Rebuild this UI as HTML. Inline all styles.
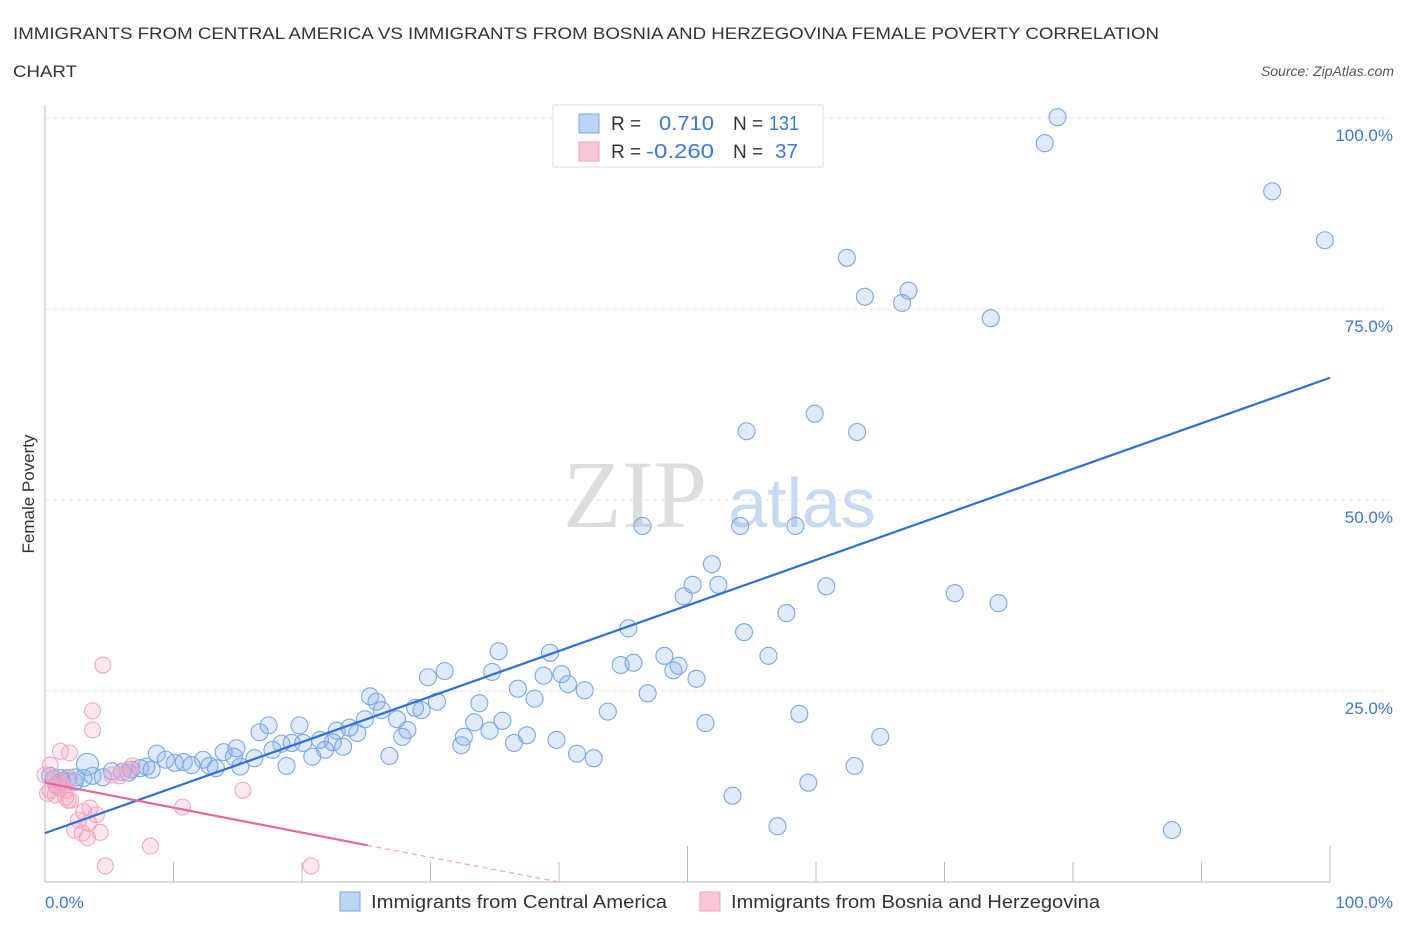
<!DOCTYPE html>
<html><head><meta charset="utf-8"><style>
body{margin:0;background:#fff}
</style></head><body>
<svg width="1406" height="930" viewBox="0 0 1406 930" xmlns="http://www.w3.org/2000/svg" font-family="Liberation Sans, sans-serif">
<text x="13" y="39" font-size="17" fill="#333" textLength="1146" lengthAdjust="spacingAndGlyphs">IMMIGRANTS FROM CENTRAL AMERICA VS IMMIGRANTS FROM BOSNIA AND HERZEGOVINA FEMALE POVERTY CORRELATION</text>
<text x="13" y="77" font-size="17" fill="#333" textLength="64" lengthAdjust="spacingAndGlyphs">CHART</text>
<text x="1394" y="76" font-size="14" fill="#555" font-style="italic" text-anchor="end">Source: ZipAtlas.com</text>
<g id="grid"></g>
<g>
<text x="635" y="527" font-size="96" fill="#ddd" style="font-family:'Liberation Serif',serif" text-anchor="middle">ZIP</text>
<text x="802" y="527" font-size="70" fill="#c8daf2" text-anchor="middle">atlas</text>
</g>
<g id="axes"></g>
<g id="pts"></g>
<g id="lines"></g>
<text x="34" y="494" font-size="17" fill="#333" transform="rotate(-90 34 494)" text-anchor="middle">Female Poverty</text>
<text x="45" y="908" font-size="17" fill="#3b78d8">0.0%</text>
<text x="1393" y="908" font-size="17" fill="#3b78d8" text-anchor="end">100.0%</text>
<g>
<rect x="553" y="105" width="270" height="62" fill="#fff" stroke="#ddd"/>
<rect x="579" y="114" width="20" height="19" fill="#bcd4f6" stroke="#7aa6e6"/>
<rect x="579" y="142" width="20" height="19" fill="#f9c6d6" stroke="#f0a0b8"/>
<text x="611" y="130" font-size="19" fill="#333">R =</text>
<text x="659" y="130" font-size="20" fill="#3b78d8" textLength="55" lengthAdjust="spacingAndGlyphs">0.710</text>
<text x="733" y="130" font-size="19" fill="#333">N =</text>
<text x="769" y="130" font-size="20" fill="#3b78d8" textLength="30" lengthAdjust="spacingAndGlyphs">131</text>
<text x="611" y="158" font-size="19" fill="#333">R =</text>
<text x="646" y="158" font-size="20" fill="#3b78d8" textLength="68" lengthAdjust="spacingAndGlyphs">-0.260</text>
<text x="733" y="158" font-size="19" fill="#333">N =</text>
<text x="775" y="158" font-size="20" fill="#3b78d8" textLength="23" lengthAdjust="spacingAndGlyphs">37</text>
</g>
<g>
<rect x="340" y="892" width="20" height="19" fill="#bcd4f6" stroke="#7aa6e6"/>
<text x="371" y="908" font-size="18" fill="#333" textLength="296" lengthAdjust="spacingAndGlyphs">Immigrants from Central America</text>
<rect x="700" y="892" width="20" height="19" fill="#f9c6d6" stroke="#f0a0b8"/>
<text x="731" y="908" font-size="18" fill="#333" textLength="369" lengthAdjust="spacingAndGlyphs">Immigrants from Bosnia and Herzegovina</text>
</g>
</svg>
<script>
const yTicks=[25,50,75,100];
const yTickLabels=["25.0%","50.0%","75.0%","100.0%"];
const xTicks=[0,10,20,30,40,50,60,70,80,90,100];
const blueX=[78.8,77.8,95.5,99.6,62.4,63.8,67.2,66.7,73.6,59.9,54.6,63.2,46.5,54.1,58.4,51.9,50.4,52.4,49.7,60.8,70.8,74.2,57.7,45.4,54.4,35.3,39.3,56.3,48.2,45.8,44.8,49.3,48.9,34.8,31.1,29.8,40.2,38.8,50.7,40.7,42.0,36.8,38.1,46.9,25.3,25.8,26.2,30.5,28.8,29.3,33.8,24.9,27.4,43.8,58.7,17.4,19.8,22.7,23.7,24.3,16.7,51.4,35.6,33.4,34.6,37.5,32.6,32.4,27.8,28.2,65.0,39.8,21.4,22.4,23.2,21.8,18.4,19.2,20.1,17.7,20.8,14.9,13.9,14.7,16.3,26.8,36.5,41.4,42.7,8.7,9.4,10.1,10.8,12.3,12.8,11.4,18.8,15.2,7.9,8.3,7.4,6.7,6.0,5.2,4.5,3.7,3.0,2.4,1.8,1.2,0.7,0.4,3.3,63.0,53.5,59.4,57.0,87.7,13.3,6.5,2.3,1.3,0.9];
const blueY=[100.1,96.7,90.4,84.0,81.7,76.6,77.4,75.8,73.8,61.3,59.0,58.9,46.6,46.6,46.6,41.6,38.9,38.9,37.4,38.7,37.8,36.5,35.2,33.2,32.7,30.2,30.0,29.6,29.6,28.7,28.4,28.3,27.7,27.5,27.6,26.8,27.2,27.0,26.6,25.9,25.1,25.3,24.0,24.7,24.3,23.6,22.5,23.6,22.8,22.5,23.4,21.3,21.3,22.3,22.0,20.5,20.5,19.8,20.2,19.5,19.6,20.8,21.1,20.9,19.8,19.2,19.0,17.9,19.0,19.9,19.0,18.6,18.6,18.3,17.7,17.3,18.1,18.2,18.2,17.3,16.4,17.5,17.0,16.4,16.2,16.5,18.2,16.8,16.2,16.8,16.0,15.6,15.7,16.0,15.2,15.3,15.2,15.1,15.1,14.7,14.9,14.7,14.4,14.5,13.7,13.9,13.6,13.7,13.6,13.6,13.5,13.9,15.4,15.2,11.3,13.0,7.3,6.8,14.9,14.3,13.1,13.2,12.7];
const pinkX=[4.5,3.7,3.7,1.2,1.9,0.4,0.0,0.4,0.8,1.6,1.8,0.2,1.3,1.2,1.9,2.0,3.0,3.5,4.0,2.6,2.3,3.4,4.3,2.9,3.3,4.7,8.2,10.7,15.4,20.7,6.8,5.8,6.5,5.2,0.8,1.0,1.6];
const pinkY=[28.4,22.4,19.9,17.1,16.9,15.3,14.0,12.0,11.4,11.1,10.7,11.6,12.7,13.0,13.6,10.7,9.2,9.7,8.8,8.1,6.8,7.7,6.5,6.4,5.8,2.1,4.7,9.8,12.0,2.1,15.2,13.9,14.7,14.0,13.4,12.3,12.0];
const blueTrend=[[0,6.4],[100,66.0]];
const pinkTrend=[[0,13.0],[25.1,4.8]];
const pinkTrendExt=[[25.1,4.8],[40,0]];
const NS="http://www.w3.org/2000/svg";
const sx=v=>45+v*12.85, sy=v=>882-v*7.64;
function mk(tag,attrs,parent){const e=document.createElementNS(NS,tag);for(const k in attrs)e.setAttribute(k,attrs[k]);document.getElementById(parent).appendChild(e);return e;}
yTicks.forEach((t,i)=>{
 const l=mk('line',{x1:45,x2:1390,y1:sy(t),y2:sy(t),stroke:'#e6e6e6','stroke-dasharray':'4 4'},'grid');
 
 
 const tx=mk('text',{x:1393,y:sy(t)+23,'font-size':17,fill:'#3b78d8','text-anchor':'end'},'grid');
 tx.textContent=yTickLabels[i];
 
 
});
const ax=mk('line',{x1:45,x2:1330,y1:882,y2:882,stroke:'#bbb'},'axes');


const ay=mk('line',{x1:45,x2:45,y1:105,y2:882,stroke:'#bbb'},'axes');


xTicks.forEach(t=>{
 const tall=(t===50||t===100);
 const k=mk('line',{x1:sx(t),x2:sx(t),y1:882,y2:tall?846:862,stroke:'#bbb'},'axes');
 
 
});
blueX.forEach((x,i)=>{
 const c=mk('circle',{cx:sx(x),cy:sy(blueY[i]),r:(x===3.3&&blueY[i]===15.4)?11:8.5,fill:'rgba(130,170,235,0.25)',stroke:'#7aa8e6','stroke-width':1.1},'pts');
 
 
});
pinkX.forEach((x,i)=>{
 const c=mk('circle',{cx:sx(x),cy:sy(pinkY[i]),r:8,fill:'rgba(245,160,190,0.25)',stroke:'#f2a8c0','stroke-width':1.1},'pts');
 
 
});
const bl=mk('line',{x1:sx(blueTrend[0][0]),y1:sy(blueTrend[0][1]),x2:sx(blueTrend[1][0]),y2:sy(blueTrend[1][1]),stroke:'#2f6fd6','stroke-width':2.2},'lines');


const pl=mk('line',{x1:sx(pinkTrend[0][0]),y1:sy(pinkTrend[0][1]),x2:sx(pinkTrend[1][0]),y2:sy(pinkTrend[1][1]),stroke:'#e8679a','stroke-width':2.2},'lines');


const pe=mk('line',{x1:sx(pinkTrendExt[0][0]),y1:sy(pinkTrendExt[0][1]),x2:sx(pinkTrendExt[1][0]),y2:sy(pinkTrendExt[1][1]),stroke:'#f0a0bb','stroke-width':1.2,'stroke-dasharray':'5 4'},'lines');


</script>
</body></html>
